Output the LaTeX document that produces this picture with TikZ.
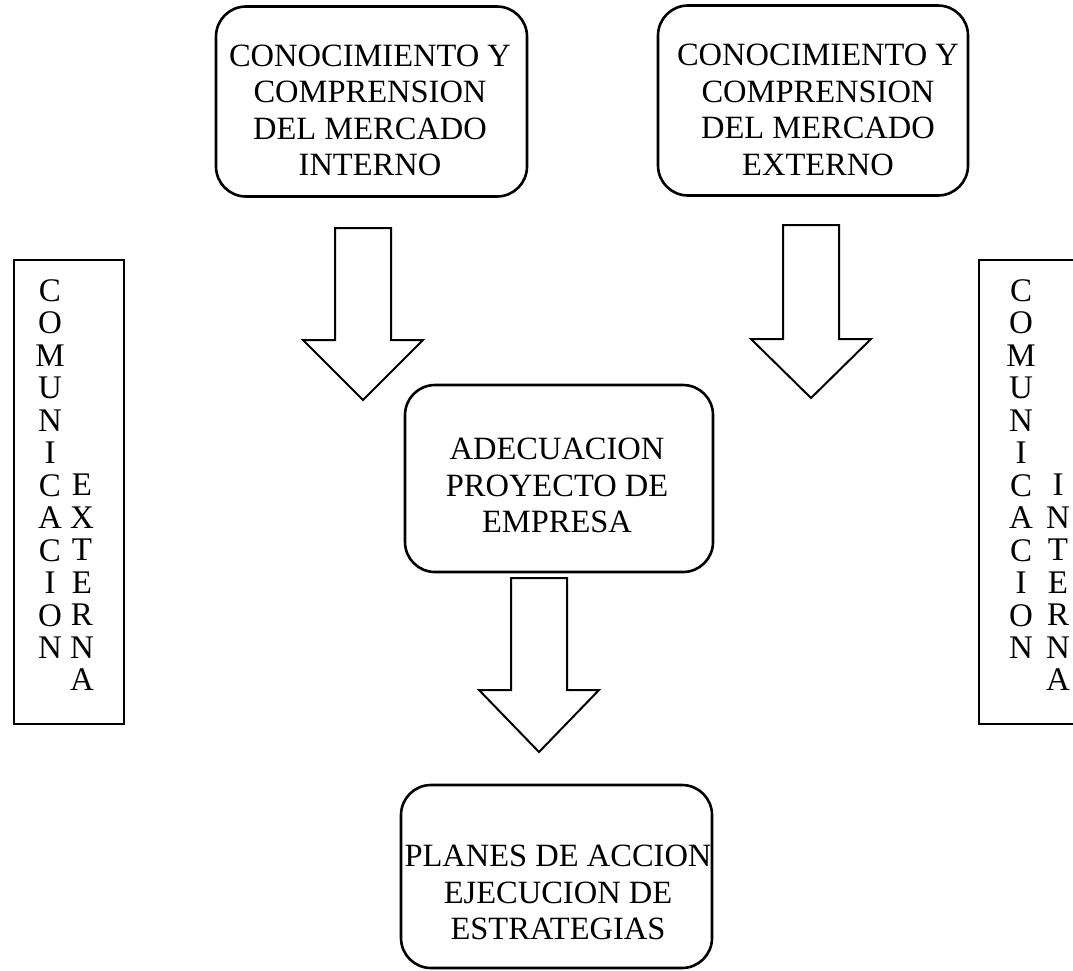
\documentclass[tikz,border=0pt]{standalone}
\usepackage{fontspec}
\setmainfont{Liberation Serif}
\newcommand{\texto}{\fontsize{32.5}{36.5}\selectfont}
\newcommand{\letras}{\fontsize{33}{32.5}\selectfont}
% flecha gruesa: x centro, y arriba, y cabeza, y punta
\newcommand{\flecha}[4]{\draw[flecha] (#1-28,#2) -- (#1+28,#2) -- (#1+28,#3) -- (#1+60,#3) -- (#1,#4) -- (#1-60,#3) -- (#1-28,#3) -- cycle;}
\begin{document}
\begin{tikzpicture}[x=1pt, y=-1pt, caja/.style={draw,line width=2.6pt,rounded corners=30pt,minimum width=311pt,minimum height=190pt,inner sep=0pt}, texto/.style={font=\texto,align=center,inner sep=0pt}, lado/.style={draw,line width=2.2pt,inner sep=0pt}, letra/.style={font=\letras,align=center,inner sep=0pt,anchor=north}, flecha/.style={draw,line width=2pt}]
\useasboundingbox (0,0) rectangle (1073,970);
\begin{scope}
\node[caja] (intern) at (371.5,101.5) {};
\node[caja, minimum width=310pt] (extern) at (813,100.5) {};
\node[caja, minimum width=308pt, minimum height=187pt] (adec) at (559,478.5) {};
\node[caja, minimum height=183pt] (planes) at (556.5,876.5) {};
%\node[caja] () at (,) {};
\end{scope}
\begin{scope}
\node[texto] (intern-t) at (370,110.5) {CONOCIMIENTO Y\\COMPRENSION\\DEL MERCADO\\INTERNO};
\node[texto] (extern-t) at (818,110) {CONOCIMIENTO Y\\COMPRENSION\\DEL MERCADO\\EXTERNO};
\node[texto] (adec-t) at (557,485.5) {ADECUACION\\PROYECTO DE\\EMPRESA};
\node[texto] (planes-t) at (558,892.5) {PLANES DE ACCION\\EJECUCION DE\\ESTRATEGIAS};
\end{scope}
\begin{scope}
\node[lado, minimum width=110pt, minimum height=464pt] (ext) at (69,492) {};
\node[letra] (ext-a) at (50,279) {C\\O\\M\\U\\N\\I\\C\\A\\C\\I\\O\\N};
\node[letra] (ext-b) at (82,474) {E\\X\\T\\E\\R\\N\\A};
\node[lado, minimum width=101pt, minimum height=464pt] (int) at (1029.5,492) {};
\node[letra] (int-a) at (1021,279) {C\\O\\M\\U\\N\\I\\C\\A\\C\\I\\O\\N};
\node[letra] (int-b) at (1058,474) {I\\N\\T\\E\\R\\N\\A};
\end{scope}
\flecha{363}{228}{340}{400}
\flecha{811}{225}{339}{398}
\flecha{539}{578}{690}{752}
\end{tikzpicture}
\end{document}
